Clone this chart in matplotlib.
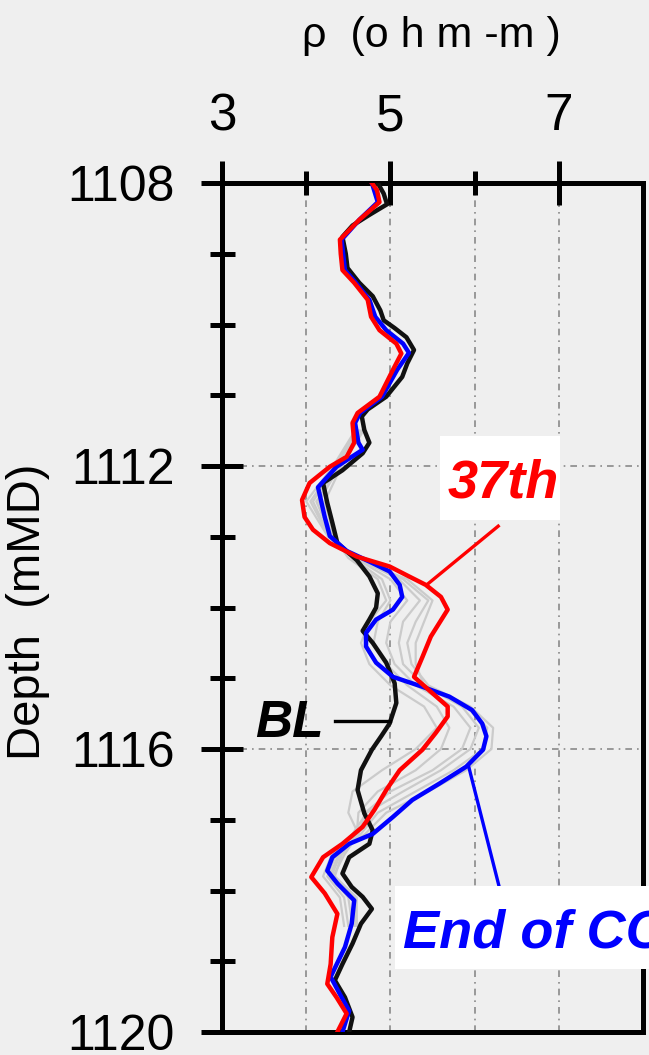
import matplotlib
matplotlib.use("Agg")
import matplotlib.pyplot as plt
from matplotlib.patches import Rectangle

# Resistivity logs: depth (mMD) and resistivity (ohm-m)
bl_depth = [1108.0, 1108.15, 1108.3, 1108.45, 1108.6, 1108.76, 1109.0, 1109.2, 1109.41, 1109.6,
            1109.8, 1109.94, 1110.05, 1110.18, 1110.36, 1110.55, 1110.74, 1111.02, 1111.2, 1111.3,
            1111.49, 1111.67, 1111.82, 1112.06, 1112.24, 1112.52, 1112.8, 1113.09, 1113.33, 1113.56,
            1113.8, 1114.0, 1114.17, 1114.33, 1114.5, 1114.78, 1115.07, 1115.35, 1115.64, 1115.82,
            1116.01, 1116.3, 1116.58, 1116.91, 1117.15, 1117.34, 1117.53, 1117.76, 1117.95, 1118.09,
            1118.26, 1118.47, 1118.75, 1119.04, 1119.27, 1119.51, 1119.79, 1120.0]
bl_rho = [4.85, 4.92, 4.96, 4.75, 4.55, 4.43, 4.47, 4.49, 4.63, 4.79,
          4.88, 4.92, 5.05, 5.19, 5.28, 5.20, 5.14, 4.95, 4.73, 4.66,
          4.69, 4.75, 4.67, 4.43, 4.20, 4.25, 4.31, 4.37, 4.60, 4.75,
          4.85, 4.83, 4.75, 4.67, 4.79, 4.95, 5.05, 5.07, 4.99, 4.89,
          4.78, 4.65, 4.61, 4.69, 4.79, 4.75, 4.51, 4.43, 4.54, 4.67,
          4.78, 4.65, 4.55, 4.43, 4.34, 4.46, 4.55, 4.51]

co2_depth = [1108.0, 1108.27, 1108.52, 1108.8, 1109.23, 1109.41, 1109.65, 1109.89, 1110.08, 1110.27,
             1110.4, 1110.64, 1111.02, 1111.25, 1111.39, 1111.67, 1111.77, 1112.01, 1112.3, 1112.72,
             1112.99, 1113.2, 1113.35, 1113.49, 1113.68, 1113.85, 1114.03, 1114.17, 1114.36, 1114.55,
             1114.78, 1114.98, 1115.12, 1115.26, 1115.45, 1115.64, 1115.82, 1116.01, 1116.25, 1116.49,
             1116.72, 1116.96, 1117.2, 1117.34, 1117.53, 1117.72, 1117.9, 1118.14, 1118.47, 1118.8,
             1119.22, 1119.51, 1119.7, 1120.0]
co2_rho = [4.78, 4.85, 4.63, 4.42, 4.46, 4.59, 4.75, 4.82, 4.95, 5.15,
           5.22, 5.08, 4.90, 4.64, 4.58, 4.62, 4.67, 4.36, 4.14, 4.22,
           4.28, 4.48, 4.75, 4.99, 5.11, 5.14, 5.03, 4.83, 4.71, 4.71,
           4.83, 5.03, 5.38, 5.70, 5.97, 6.09, 6.14, 6.10, 5.90, 5.58,
           5.26, 5.03, 4.79, 4.51, 4.31, 4.25, 4.37, 4.57, 4.54, 4.46,
           4.29, 4.42, 4.51, 4.43]

it37_depth = [1108.0, 1108.1, 1108.27, 1108.52, 1108.8, 1109.0, 1109.23, 1109.41, 1109.65, 1109.89,
              1110.08, 1110.27, 1110.41, 1110.64, 1111.02, 1111.25, 1111.39, 1111.67, 1111.87, 1112.01,
              1112.24, 1112.48, 1112.72, 1112.9, 1113.09, 1113.28, 1113.42, 1113.56, 1113.68, 1113.85,
              1114.03, 1114.22, 1114.41, 1114.7, 1114.98, 1115.17, 1115.4, 1115.54, 1115.77, 1116.01,
              1116.3, 1116.58, 1116.86, 1117.1, 1117.34, 1117.53, 1117.81, 1118.04, 1118.33, 1118.66,
              1119.04, 1119.32, 1119.51, 1119.74, 1120.0]
it37_rho = [4.78, 4.84, 4.87, 4.63, 4.40, 4.41, 4.43, 4.57, 4.73, 4.77,
            4.87, 5.07, 5.13, 5.03, 4.87, 4.61, 4.55, 4.57, 4.48, 4.28,
            4.04, 3.95, 3.98, 4.08, 4.28, 4.60, 4.99, 5.22, 5.42, 5.60,
            5.68, 5.58, 5.48, 5.38, 5.28, 5.46, 5.68, 5.68, 5.54, 5.38,
            5.11, 4.95, 4.81, 4.67, 4.43, 4.20, 4.06, 4.22, 4.37, 4.31,
            4.29, 4.25, 4.36, 4.48, 4.37]

# Intermediate iterations (light grey)
iter_depth = [1111.5, 1112.0, 1112.5, 1113.0, 1113.3, 1113.6, 1113.9, 1114.2, 1114.5, 1114.8, 1115.1,
              1115.4, 1115.7, 1116.0, 1116.3, 1116.6, 1116.9, 1117.2, 1117.5, 1117.8, 1118.1, 1118.5]
iter_a = [4.68, 4.42, 4.22, 4.33, 4.55, 4.90, 5.00, 4.85, 4.80, 4.95, 5.20,
          5.55, 5.70, 5.60, 5.30, 4.85, 4.62, 4.60, 4.42, 4.34, 4.60, 4.60]
iter_b = [4.64, 4.40, 4.12, 4.30, 4.58, 5.00, 5.20, 5.00, 4.95, 5.05, 5.30,
          5.75, 5.95, 5.85, 5.50, 5.00, 4.70, 4.62, 4.40, 4.30, 4.55, 4.58]
iter_c = [4.62, 4.36, 4.08, 4.28, 4.60, 5.10, 5.35, 5.15, 5.10, 5.15, 5.40,
          5.90, 6.15, 6.10, 5.75, 5.30, 4.85, 4.65, 4.38, 4.28, 4.50, 4.55]
iter_d = [4.60, 4.34, 4.05, 4.27, 4.57, 5.15, 5.45, 5.30, 5.20, 5.25, 5.45,
          5.95, 6.22, 6.20, 5.90, 5.45, 4.95, 4.70, 4.35, 4.25, 4.45, 4.50]
iter_e = [4.58, 4.32, 4.00, 4.26, 4.56, 5.20, 5.50, 5.40, 5.30, 5.30, 5.40,
          5.85, 6.05, 5.95, 5.60, 5.15, 4.72, 4.55, 4.30, 4.20, 4.40, 4.45]
iter_f = [4.66, 4.40, 4.15, 4.32, 4.50, 4.85, 4.95, 4.75, 4.65, 4.75, 5.00,
          5.40, 5.55, 5.30, 4.90, 4.55, 4.50, 4.62, 4.45, 4.32, 4.58, 4.60]

x_major = [3, 5, 7]
x_minor = [4, 6]
y_major = [1108, 1112, 1116, 1120]
y_minor = [1109, 1110, 1111, 1113, 1114, 1115, 1117, 1118, 1119]

BG = "#efefef"
sans = ["Liberation Sans", "DejaVu Sans"]

fig = plt.figure(figsize=(6.49, 10.55), dpi=100, facecolor=BG)
ax = fig.add_axes([0.3421, 0.0218, 0.6487, 0.8047], facecolor=BG)

for xs in [iter_a, iter_b, iter_c, iter_d, iter_e, iter_f]:
    ax.plot(xs, iter_depth, color="#cbcbcb", lw=1.6, zorder=2, solid_joinstyle="round")

ax.plot(bl_rho, bl_depth, color="#111111", lw=3.2, zorder=3)
ax.plot(co2_rho, co2_depth, color="#0000ff", lw=3.2, zorder=4)
ax.plot(it37_rho, it37_depth, color="#ff0000", lw=3.2, zorder=5)

ax.set_xlim(3, 8)
ax.set_ylim(1120, 1108)

ax.xaxis.tick_top()
ax.set_xticks(x_major)
ax.set_xticks(x_minor, minor=True)
ax.set_yticks(y_major)
ax.set_yticks(y_minor, minor=True)
ax.set_xticklabels([str(v) for v in x_major])
ax.set_yticklabels([str(v) for v in y_major])

ax.tick_params(axis="x", which="major", direction="inout", length=32, width=3.6,
               pad=14, labelsize=37, colors="black")
ax.tick_params(axis="x", which="minor", direction="inout", length=17, width=3.6)
ax.tick_params(axis="y", which="major", direction="inout", length=30, width=3.6,
               pad=19, labelsize=36)
ax.tick_params(axis="y", which="minor", direction="inout", length=18, width=3.6)
for lab in ax.get_xticklabels() + ax.get_yticklabels():
    lab.set_family(sans)

grid_style = dict(color="#8a8a8a", lw=1.2, linestyle=(0, (4, 3, 1, 3)))
ax.grid(True, axis="x", which="both", **grid_style)
ax.grid(True, axis="y", which="major", **grid_style)
ax.set_axisbelow(True)

for side in ["top", "bottom", "left", "right"]:
    ax.spines[side].set_linewidth(3.6)
    ax.spines[side].set_color("black")

fig.text(0.664, 0.966, "ρ  (o h m -m )", ha="center", va="center",
         fontsize=31, family=sans)
fig.text(0.0424, 0.42, "Depth  (mMD)", ha="center", va="center", rotation=90,
         fontsize=34, family=sans)

# Annotation boxes
fig.add_artist(Rectangle((0.678, 0.5071), 0.185, 0.0796, transform=fig.transFigure,
                         facecolor="white", edgecolor="none", zorder=6))
fig.add_artist(Rectangle((0.6086, 0.0815), 0.45, 0.0787, transform=fig.transFigure,
                         facecolor="white", edgecolor="none", zorder=6))

ax.plot([6.28, 5.43], [1112.85, 1113.68], color="#ff0000", lw=2.4, zorder=6, clip_on=False)
ax.plot([6.29, 5.93], [1117.94, 1116.25], color="#0000ff", lw=2.4, zorder=6, clip_on=False)
ax.plot([4.34, 4.99], [1115.6, 1115.6], color="black", lw=2.4, zorder=6, clip_on=False)

fig.text(0.689, 0.528, "37th", color="#ff0000", fontsize=39, fontweight="bold",
         fontstyle="italic", family=sans, va="baseline", ha="left", zorder=7)
fig.text(0.621, 0.1014, "End of CO₂", color="#0000ff", fontsize=39, fontweight="bold",
         fontstyle="italic", family=sans, va="baseline", ha="left", zorder=7)
ax.text(3.39, 1115.83, "BL", color="black", fontsize=37, fontweight="bold",
        fontstyle="italic", family=sans, va="baseline", ha="left", zorder=7, clip_on=False)

fig.savefig("out.png", dpi=100, facecolor=BG)
